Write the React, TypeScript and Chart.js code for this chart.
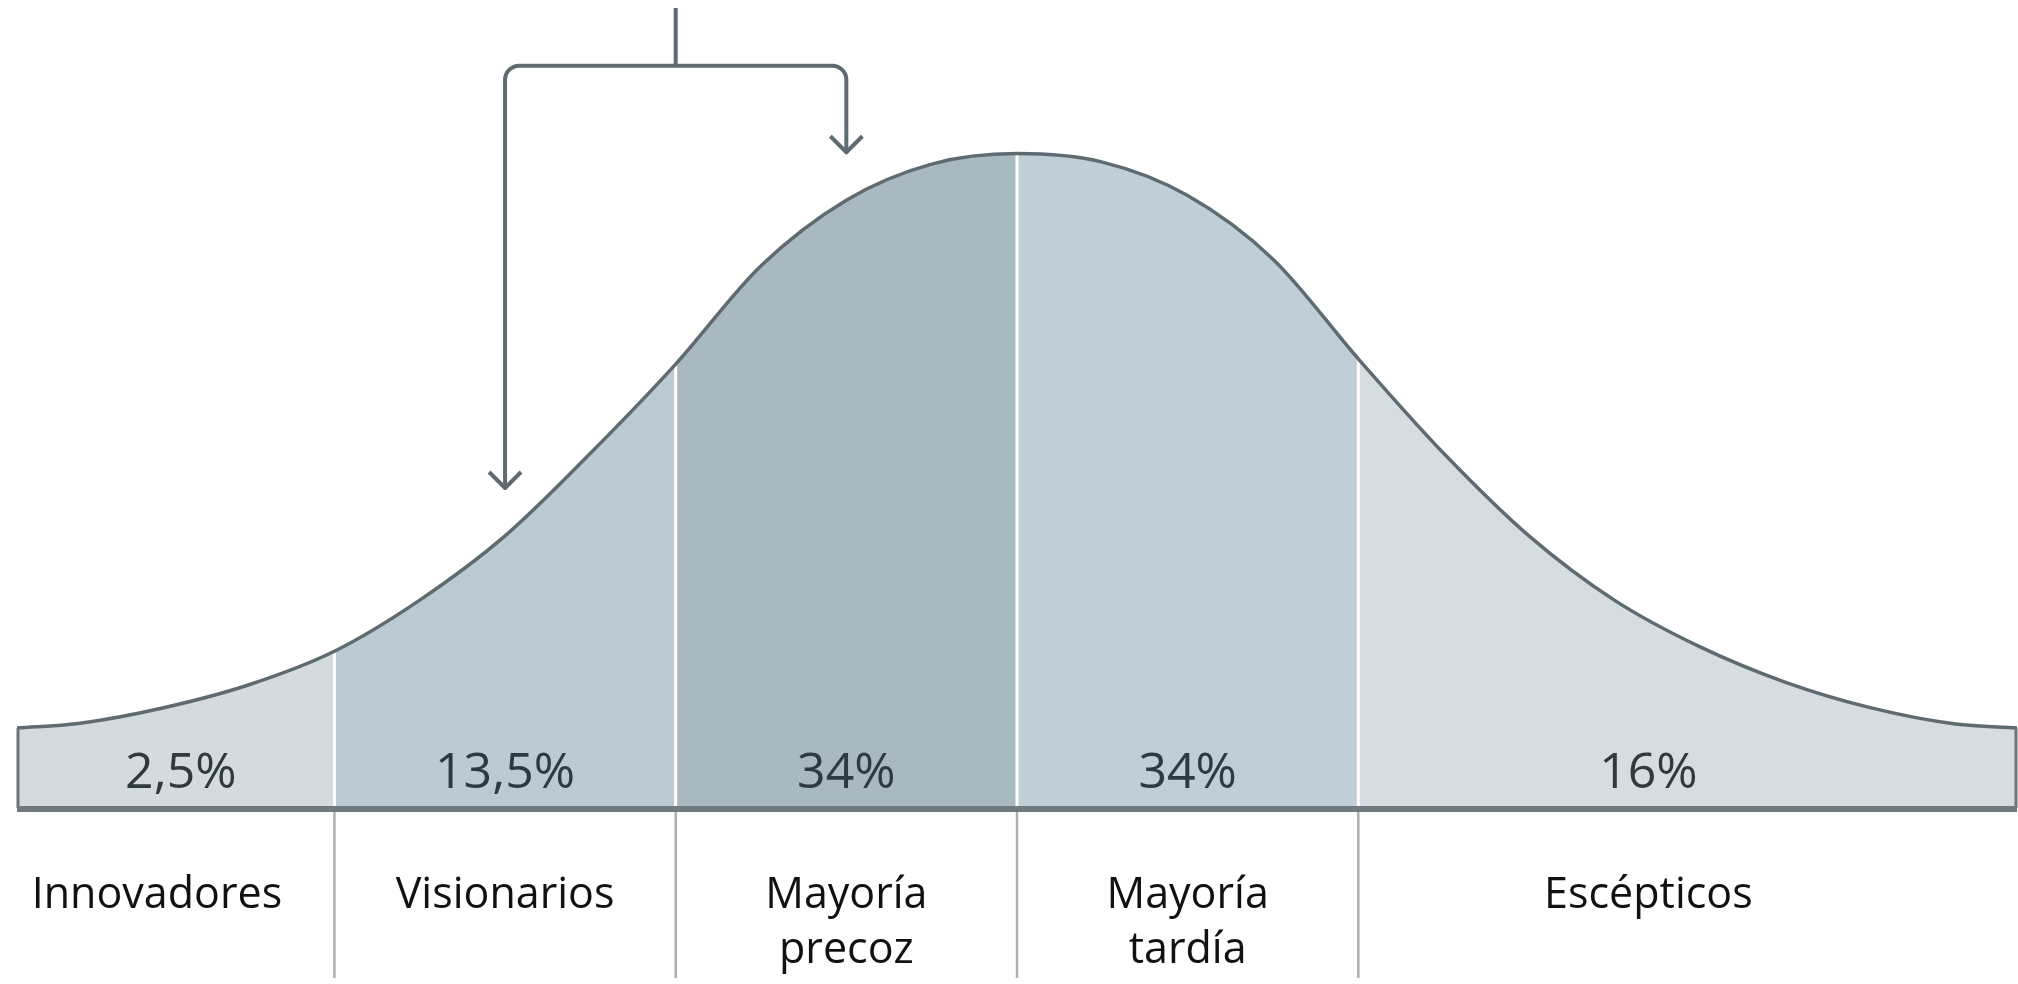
import React, { useEffect, useRef } from "react";
import { Chart, registerables } from "chart.js";

Chart.register(...registerables);

// Adoption curve, x in standard deviations from the mean, y in relative height (peak ≈ 100)
const curveX = [-2.93, -2.75, -2.5, -2.25, -2, -1.75, -1.5, -1.25, -1, -0.75, -0.5, -0.25, 0, 0.25, 0.5, 0.75, 1, 1.25, 1.5, 1.75, 2, 2.25, 2.5, 2.75, 2.93];
const curveY = [12.2, 12.9, 15.3, 18.8, 23.9, 31.7, 41.5, 54.1, 67.7, 82.7, 92.7, 98.2, 99.8, 98.5, 93.4, 83.7, 68.5, 54.1, 41.5, 31.7, 24.6, 19.2, 15.3, 12.8, 12.2];

// Segment boundaries (in standard deviations)
const boundaries = [-2, -1, 0, 1];

const categories = [["Innovadores"], ["Visionarios"], ["Mayoría", "precoz"], ["Mayoría", "tardía"], ["Escépticos"]];
const percentLabels = ["2,5%", "13,5%", "34%", "34%", "16%"];

const segmentColors = ["#d3dbdf", "#bccad1", "#a9b9c0", "#c0ced5", "#d6dde0"];

// Label anchors along the x axis
const percentAnchorX = [-2.45, -1.5, -0.5, 0.5, 1.85];
const categoryAnchorX = [-2.52, -1.5, -0.5, 0.5, 1.85];

// Bracket annotation: x positions and y values (in chart units)
const bracketX = [-1.5, -1.0, -0.5];
const bracketTopY = 122;
const bracketBarY = 113.2;
const arrowEndY = [48.8, 100.0];

const STROKE = "#5e6b71";
const FONT = "'Open Sans', 'Noto Sans', sans-serif";

function segIndex(x: number) {
  let i = 0;
  for (const b of boundaries) if (x >= b - 1e-9) i++;
  return i;
}

const decorPlugin = {
  id: "decor",
  afterDatasetDraw(chart: any, args: any) {
    if (args.index !== 1) return;
    const { ctx } = chart;
    const xs = chart.scales.x;
    const ys = chart.scales.y;
    ctx.save();
    ctx.strokeStyle = "#ffffff";
    ctx.lineWidth = 3;
    boundaries.forEach((b) => {
      const i = curveX.indexOf(b);
      const px = xs.getPixelForValue(b);
      ctx.beginPath();
      ctx.moveTo(px, ys.getPixelForValue(0));
      ctx.lineTo(px, ys.getPixelForValue(curveY[i]));
      ctx.stroke();
    });
    ctx.restore();
  },
  afterDatasetsDraw(chart: any) {
    const { ctx } = chart;
    const xs = chart.scales.x;
    const ys = chart.scales.y;
    const y0 = ys.getPixelForValue(0);
    const xL = xs.getPixelForValue(curveX[0]);
    const xR = xs.getPixelForValue(curveX[curveX.length - 1]);
    ctx.save();

    // Band side edges
    ctx.strokeStyle = "#6a767b";
    ctx.lineWidth = 3;
    ctx.beginPath();
    ctx.moveTo(xL + 1, ys.getPixelForValue(curveY[0]));
    ctx.lineTo(xL + 1, y0);
    ctx.moveTo(xR - 1, ys.getPixelForValue(curveY[curveY.length - 1]));
    ctx.lineTo(xR - 1, y0);
    ctx.stroke();

    // Lines below the baseline
    ctx.strokeStyle = "#a8b0b4";
    ctx.lineWidth = 2.5;
    boundaries.forEach((b) => {
      const px = xs.getPixelForValue(b);
      ctx.beginPath();
      ctx.moveTo(px, y0 + 3);
      ctx.lineTo(px, y0 + 170);
      ctx.stroke();
    });

    // Baseline
    ctx.strokeStyle = "#6e7a7f";
    ctx.lineWidth = 6;
    ctx.beginPath();
    ctx.moveTo(xL, y0 + 1);
    ctx.lineTo(xR, y0 + 1);
    ctx.stroke();

    // Bracket with arrows
    const bl = xs.getPixelForValue(bracketX[0]);
    const bm = xs.getPixelForValue(bracketX[1]);
    const br = xs.getPixelForValue(bracketX[2]);
    const yTop = ys.getPixelForValue(bracketTopY);
    const yBar = ys.getPixelForValue(bracketBarY);
    const yAL = ys.getPixelForValue(arrowEndY[0]);
    const yAR = ys.getPixelForValue(arrowEndY[1]);
    ctx.strokeStyle = STROKE;
    ctx.lineWidth = 4;
    ctx.lineJoin = "round";
    ctx.beginPath();
    ctx.moveTo(bm, yTop);
    ctx.lineTo(bm, yBar);
    ctx.stroke();
    ctx.beginPath();
    ctx.moveTo(bl, yAL);
    ctx.arcTo(bl, yBar, br, yBar, 14);
    ctx.arcTo(br, yBar, br, yAR, 14);
    ctx.lineTo(br, yAR);
    ctx.stroke();
    const chevron = (x: number, y: number) => {
      ctx.beginPath();
      ctx.moveTo(x - 16, y - 16);
      ctx.lineTo(x, y);
      ctx.lineTo(x + 16, y - 16);
      ctx.stroke();
    };
    chevron(bl, yAL);
    chevron(br, yAR);

    // Percent labels
    ctx.textAlign = "center";
    ctx.textBaseline = "alphabetic";
    ctx.fillStyle = "#2e3a40";
    ctx.font = `500 50px ${FONT}`;
    percentLabels.forEach((t, i) => {
      ctx.fillText(t, xs.getPixelForValue(percentAnchorX[i]), y0 - 20);
    });

    // Category labels
    ctx.fillStyle = "#111111";
    ctx.font = `43px ${FONT}`;
    categories.forEach((lines, i) => {
      lines.forEach((line, j) => {
        ctx.fillText(line, xs.getPixelForValue(categoryAnchorX[i]), y0 + 100 + j * 55);
      });
    });
    ctx.restore();
  },
};

export default function App() {
  const canvasRef = useRef<HTMLCanvasElement | null>(null);

  useEffect(() => {
    if (!canvasRef.current) return;
    const points = curveX.map((x, i) => ({ x, y: curveY[i] }));
    const chart = new Chart(canvasRef.current, {
      type: "line",
      data: {
        datasets: [
          {
            label: "curve",
            data: points,
            borderColor: STROKE,
            borderWidth: 3.5,
            fill: false,
            pointRadius: 0,
            cubicInterpolationMode: "monotone",
          },
          {
            label: "areas",
            data: points,
            borderWidth: 0,
            borderColor: "rgba(0,0,0,0)",
            backgroundColor: segmentColors[0],
            fill: "origin",
            pointRadius: 0,
            cubicInterpolationMode: "monotone",
            segment: {
              backgroundColor: (c: any) => segmentColors[segIndex(c.p0.parsed.x)],
            },
          },
        ],
      },
      options: {
        animation: false,
        responsive: true,
        maintainAspectRatio: false,
        layout: { padding: { left: 17, right: 1, top: 8, bottom: 176 } },
        scales: {
          x: { type: "linear", min: curveX[0], max: curveX[curveX.length - 1], display: false },
          y: { type: "linear", min: 0, max: bracketTopY, display: false },
        },
        plugins: {
          legend: { display: false },
          tooltip: { enabled: false },
        },
      } as any,
      plugins: [decorPlugin],
    });
    return () => chart.destroy();
  }, []);

  return (
    <div style={{ position: "fixed", left: 0, top: 0, width: 2018, height: 984, background: "#ffffff" }}>
      <canvas ref={canvasRef} />
    </div>
  );
}
